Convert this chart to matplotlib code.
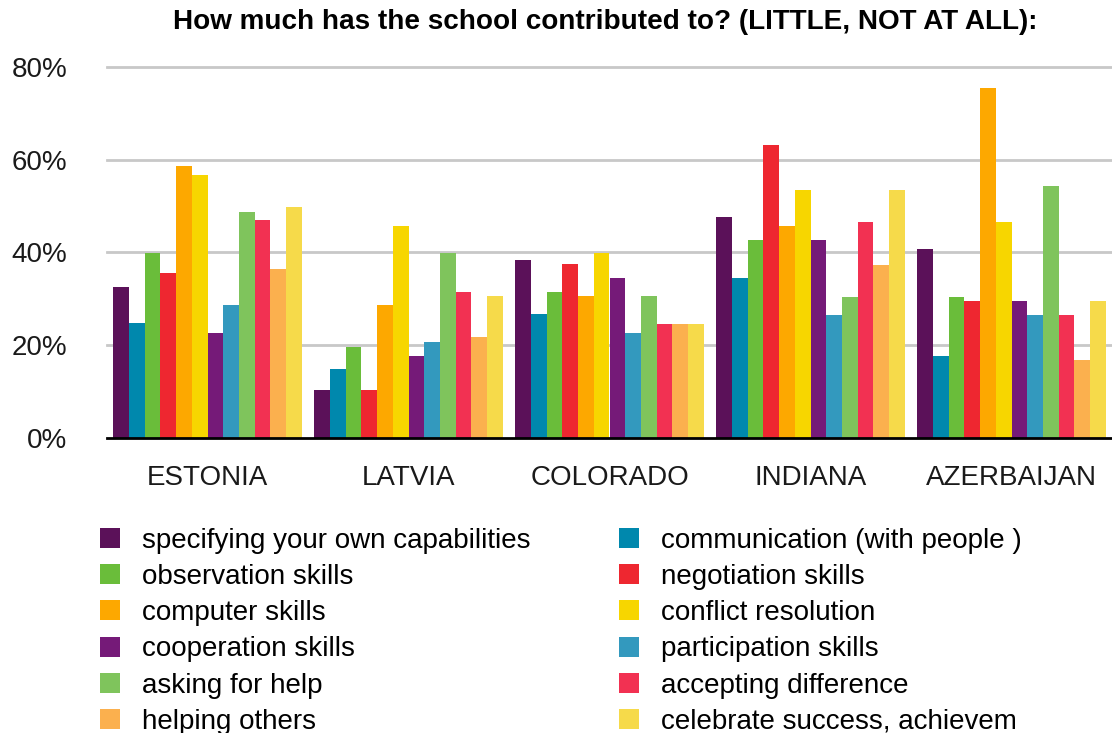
import numpy as np
import matplotlib
matplotlib.use('Agg')
import matplotlib.pyplot as plt

plt.rcParams['font.family'] = ['Liberation Sans', 'DejaVu Sans']

regions = ['ESTONIA', 'LATVIA', 'COLORADO', 'INDIANA', 'AZERBAIJAN']

skills = ['specifying your own capabilities', 'communication (with people )',
          'observation skills', 'negotiation skills',
          'computer skills', 'conflict resolution',
          'cooperation skills', 'participation skills',
          'asking for help', 'accepting difference',
          'helping others', 'celebrate success, achievem']

colors = ['#5b1159', '#0088ad', '#6abd3a', '#ee2730', '#fda800', '#f7d600',
          '#751a78', '#3399be', '#7fc45c', '#f23152', '#fbb04e', '#f6da4a']

# percent, one list per skill (ESTONIA, LATVIA, COLORADO, INDIANA, AZERBAIJAN)
specifying    = [32.6, 10.4, 38.4, 47.6, 40.8]
communication = [24.7, 14.8, 26.7, 34.4, 17.7]
observation   = [39.9, 19.6, 31.5, 42.6, 30.4]
negotiation   = [35.5, 10.4, 37.4, 63.2, 29.5]
computer      = [58.6, 28.6, 30.6, 45.6, 75.5]
conflict      = [56.7, 45.7, 39.8, 53.5, 46.6]
cooperation   = [22.7, 17.7, 34.5, 42.6, 29.5]
participation = [28.6, 20.6, 22.7, 26.5, 26.5]
asking_help   = [48.8, 39.8, 30.6, 30.4, 54.4]
accepting     = [46.9, 31.5, 24.6, 46.6, 26.5]
helping       = [36.5, 21.7, 24.6, 37.3, 16.7]
celebrate     = [49.7, 30.6, 24.6, 53.5, 29.5]

values = [specifying, communication, observation, negotiation, computer, conflict,
          cooperation, participation, asking_help, accepting, helping, celebrate]

W, H = 1112, 733
fig = plt.figure(figsize=(W / 100, H / 100), dpi=100)
ax = fig.add_axes([107 / W, 1 - 437.7 / H, 1 - 107 / W, (437.7 - 67) / H])

x = np.arange(len(regions))
bw = 0.0782
bars = []
for i, vals in enumerate(values):
    off = (i - 5.5) * bw
    b = ax.bar(x + off, vals, width=bw, color=colors[i], linewidth=0, label=skills[i], zorder=3)
    bars.append(b)

ax.set_xlim(-0.5, 4.5)
ax.set_ylim(0, 80)
ax.set_yticks([0, 20, 40, 60, 80])
ax.set_yticklabels(['0%', '20%', '40%', '60%', '80%'])
ax.set_xticks(x)
ax.set_xticklabels(regions)
ax.tick_params(axis='both', length=0, labelsize=20, colors='#1a1a1a')
ax.tick_params(axis='y', pad=28.5)
ax.tick_params(axis='x', pad=20)

for s in ['top', 'right', 'left']:
    ax.spines[s].set_visible(False)
ax.spines['bottom'].set_linewidth(2)
ax.spines['bottom'].set_color('black')
ax.spines['bottom'].set_zorder(4)

for v in [20, 40, 60, 80]:
    ax.axhline(v, color='#c8c8c8', linewidth=2, zorder=1, clip_on=False)

fig.text(605 / W, 1 - 22 / H, 'How much has the school contributed to? (LITTLE, NOT AT ALL):',
         ha='center', va='center', fontsize=20.1, fontweight='bold')

leg_kw = dict(frameon=False, fontsize=20, handlelength=0.72, handleheight=0.72,
              handletextpad=0.79, labelspacing=0.37, borderpad=0, borderaxespad=0,
              loc='upper left')
left_h = [bars[i] for i in range(0, 12, 2)]
right_h = [bars[i] for i in range(1, 12, 2)]
fig.legend(left_h, [skills[i] for i in range(0, 12, 2)],
           bbox_to_anchor=(100 / W, 1 - 527.5 / H), **leg_kw)
fig.legend(right_h, [skills[i] for i in range(1, 12, 2)],
           bbox_to_anchor=(619 / W, 1 - 527.5 / H), **leg_kw)

fig.savefig('out.png', dpi=100)
